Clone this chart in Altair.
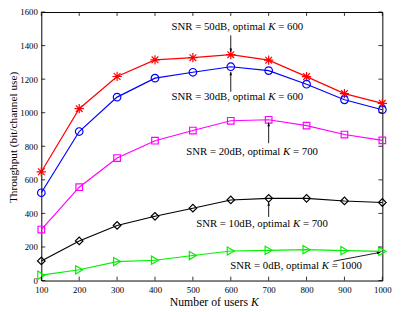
import altair as alt
import pandas as pd

# ---- data ----
users = [100, 200, 300, 400, 500, 600, 700, 800, 900, 1000]
snr50 = [648, 1024, 1216, 1315, 1328, 1346, 1313, 1215, 1114, 1056]
snr30 = [523, 888, 1093, 1206, 1241, 1274, 1251, 1170, 1077, 1018]
snr20 = [304, 556, 730, 833, 894, 952, 958, 923, 870, 835]
snr10 = [117, 236, 328, 383, 431, 480, 490, 490, 474, 465]
snr0 = [32, 64, 113, 121, 149, 176, 180, 184, 178, 174]

series_names = ["50dB", "30dB", "20dB", "10dB", "0dB"]
series_vals = [snr50, snr30, snr20, snr10, snr0]
series_colors = ["#ff0000", "#0000ff", "#ff00ff", "#000000", "#00f000"]
ASTERISK = "M-1,0L1,0M0,-1L0,1M-0.72,-0.72L0.72,0.72M-0.72,0.72L0.72,-0.72"
series_shapes = [ASTERISK, "circle", "square", "diamond", "triangle-right"]
series_sizes = [90, 60, 45, 60, 70]

x_ticks = users
y_ticks = [0, 200, 400, 600, 800, 1000, 1200, 1400, 1600]

# annotations
ann_prefix = ["SNR = 50dB, optimal", "SNR = 30dB, optimal", "SNR = 20dB, optimal",
              "SNR = 10dB, optimal", "SNR = 0dB, optimal"]
ann_suffix = ["= 600", "= 600", "= 700", "= 700", "= 1000"]
ann_kx = [699, 699, 738, 764, 840]
ann_y = [1508, 1093, 767, 338, 86]

arr_x = [600, 600, 700, 700, 871]
arr_y = [1461, 1125, 818, 379, 115]
arr_x2 = [600, 600, 700, 700, 995]
arr_y2 = [1362, 1244, 941, 467, 168]
arr_ang = [180, 0, 0, 0, 78]

W, H = 348, 274
FONT = "Liberation Serif"

xs = alt.Scale(domain=[100, 1000], nice=False, zero=False)
ys = alt.Scale(domain=[0, 1600], nice=False)
x_axis = alt.Axis(values=x_ticks, title=None, ticks=False, domain=False, grid=False, format="d",
                  labelFont=FONT, labelFontSize=9, labelColor="black",
                  labelFlush=False, labelOverlap=False, labelPadding=5)
y_axis = alt.Axis(values=y_ticks, title=None, ticks=False, domain=False, grid=False, format="d",
                  labelFont=FONT, labelFontSize=9, labelColor="black",
                  labelOverlap=False, labelPadding=4)

layers = []
for name, vals, col, shp, sz in zip(series_names, series_vals, series_colors, series_shapes, series_sizes):
    df = pd.DataFrame({"K": users, "T": vals})
    base = alt.Chart(df).encode(
        x=alt.X("K:Q", scale=xs, axis=x_axis),
        y=alt.Y("T:Q", scale=ys, axis=y_axis),
    )
    layers.append(base.mark_line(color=col, strokeWidth=1.2))
    layers.append(base.mark_point(shape=shp, color=col, filled=False, strokeWidth=1.2, size=sz, opacity=1))

# inward ticks
xt = alt.Chart(pd.DataFrame({"K": x_ticks}))
layers.append(xt.mark_rule(color="black", strokeWidth=0.8).encode(
    x=alt.X("K:Q", scale=xs, axis=x_axis), y=alt.value(H), y2=alt.value(H - 4)))
layers.append(xt.mark_rule(color="black", strokeWidth=0.8).encode(
    x=alt.X("K:Q", scale=xs, axis=x_axis), y=alt.value(0), y2=alt.value(4)))
yt = alt.Chart(pd.DataFrame({"T": y_ticks}))
layers.append(yt.mark_rule(color="black", strokeWidth=0.8).encode(
    y=alt.Y("T:Q", scale=ys, axis=y_axis), x=alt.value(0), x2=alt.value(4)))
layers.append(yt.mark_rule(color="black", strokeWidth=0.8).encode(
    y=alt.Y("T:Q", scale=ys, axis=y_axis), x=alt.value(W), x2=alt.value(W - 4)))

# arrows
adf = pd.DataFrame({"x": arr_x, "y": arr_y, "x2": arr_x2, "y2": arr_y2, "ang": arr_ang})
layers.append(alt.Chart(adf).mark_rule(color="black", strokeWidth=0.9).encode(
    x=alt.X("x:Q", scale=xs, axis=x_axis), y=alt.Y("y:Q", scale=ys, axis=y_axis), x2="x2:Q", y2="y2:Q"))
HEAD = "M0,0L-0.75,2.1L0.75,2.1Z"
layers.append(alt.Chart(adf).mark_point(shape=HEAD, filled=True, color="black", size=12, opacity=1,
                                        strokeWidth=0).encode(
    x=alt.X("x2:Q", scale=xs, axis=x_axis), y=alt.Y("y2:Q", scale=ys, axis=y_axis),
    angle=alt.Angle("ang:Q", scale=None)))

# annotation texts
tdf = pd.DataFrame({"kx": ann_kx, "ty": ann_y, "pre": ann_prefix, "suf": ann_suffix})
tb = alt.Chart(tdf).encode(x=alt.X("kx:Q", scale=xs, axis=x_axis), y=alt.Y("ty:Q", scale=ys, axis=y_axis))
layers.append(tb.mark_text(font=FONT, fontSize=11, align="right", baseline="middle", dx=-2.8,
                           color="black").encode(text="pre:N"))
layers.append(tb.mark_text(font=FONT, fontSize=11, align="left", baseline="middle", fontStyle="italic",
                           color="black").encode(text=alt.value("K")))
layers.append(tb.mark_text(font=FONT, fontSize=11, align="left", baseline="middle", dx=10.2,
                           color="black").encode(text="suf:N"))

# axis titles
one = alt.Chart(pd.DataFrame({"a": [0]}))
layers.append(one.mark_text(font=FONT, fontSize=12, align="right", baseline="middle", color="black").encode(
    x=alt.value(211), y=alt.value(296), text=alt.value("Number of users")))
layers.append(one.mark_text(font=FONT, fontSize=12, align="left", baseline="middle", fontStyle="italic",
                            color="black").encode(x=alt.value(214), y=alt.value(296), text=alt.value("K")))
layers.append(one.mark_text(font=FONT, fontSize=11.5, align="center", baseline="middle", angle=270,
                            color="black").encode(x=alt.value(-28), y=alt.value(128),
                                                  text=alt.value("Throughput (bit/channel use)")))

chart = alt.layer(*layers).properties(
    width=W, height=H,
    autosize=alt.AutoSizeParams(type="none"),
    padding={"left": 34, "top": 1, "right": 17, "bottom": 29},
    background="white",
).configure_view(stroke="black", strokeWidth=1).configure_axis(labelOverlap=False)

chart.save("out.html", embed_options={"renderer": "svg", "actions": False})
